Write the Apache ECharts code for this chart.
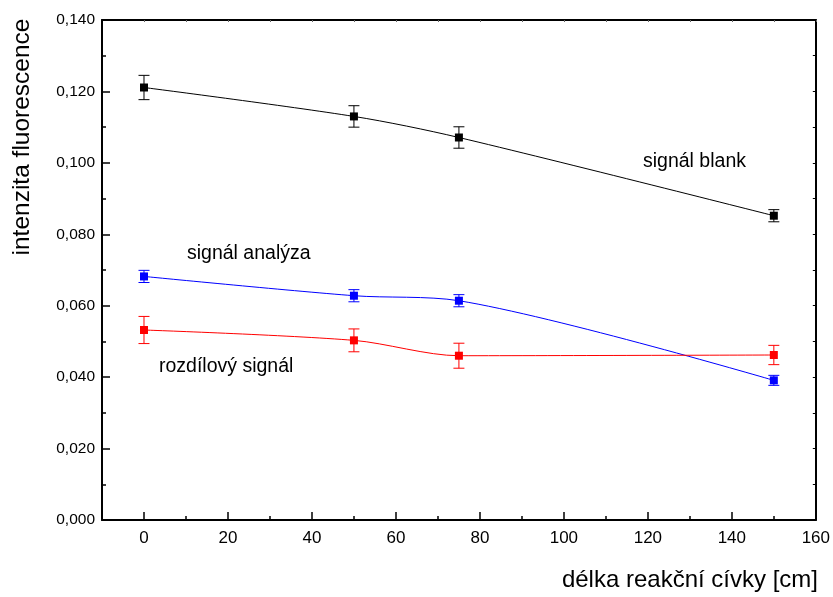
<!DOCTYPE html>
<html>
<head>
<meta charset="utf-8">
<script src="https://cdn.jsdelivr.net/npm/echarts@6/dist/echarts.min.js"></script>
<style>html,body{margin:0;padding:0;background:#fff}#c{width:833px;height:597px}</style>
</head>
<body>
<div id="c"></div>
<script>
const xValues = [0, 50, 75, 150];
const blankVals = [0.1211, 0.1130, 0.1071, 0.0852];
const blankErr = [0.0034, 0.0030, 0.0030, 0.0017];
const analyzaVals = [0.0682, 0.0628, 0.0614, 0.0391];
const analyzaErr = [0.0017, 0.0017, 0.0017, 0.0014];
const rozdilVals = [0.0532, 0.0503, 0.0460, 0.0462];
const rozdilErr = [0.0038, 0.0032, 0.0035, 0.0027];
const xMajorTicks = [0, 20, 40, 60, 80, 100, 120, 140, 160];
const xMinorTicks = [10, 30, 50, 70, 90, 110, 130, 150];
const xTopTicks = [0, 10, 20, 30, 40, 50, 60, 70, 80, 90, 100, 110, 120, 130, 140, 150, 160];
const yTitle = 'intenzita fluorescence';
const xTitle = 'délka reakční cívky [cm]';
const labelBlank = 'signál blank';
const labelAnalyza = 'signál analýza';
const labelRozdil = 'rozdílový signál';

const FONT = '"Liberation Sans", Arial, sans-serif';
const chart = echarts.init(document.getElementById('c'));

function pts(vals) { return xValues.map((x, i) => [x, vals[i]]); }
function errs(vals, e) { return xValues.map((x, i) => [x, vals[i] - e[i], vals[i] + e[i]]); }

function errSeries(vals, e, color) {
  return {
    type: 'custom',
    xAxisIndex: 0, yAxisIndex: 0,
    data: errs(vals, e),
    encode: { x: 0, y: [1, 2] },
    z: 3,
    renderItem: function (params, api) {
      const x = api.value(0);
      const top = api.coord([x, api.value(2)]);
      const bot = api.coord([x, api.value(1)]);
      const w = 5.5;
      const st = { stroke: color, lineWidth: 1 };
      return {
        type: 'group',
        children: [
          { type: 'line', shape: { x1: top[0], y1: top[1], x2: bot[0], y2: bot[1] }, style: st },
          { type: 'line', shape: { x1: top[0] - w, y1: top[1], x2: top[0] + w, y2: top[1] }, style: st },
          { type: 'line', shape: { x1: bot[0] - w, y1: bot[1], x2: bot[0] + w, y2: bot[1] }, style: st }
        ]
      };
    }
  };
}

function lineSeries(vals, color) {
  return {
    type: 'line',
    xAxisIndex: 0, yAxisIndex: 0,
    data: pts(vals),
    smooth: 0.3,
    symbol: 'rect',
    symbolSize: 8,
    showSymbol: true,
    itemStyle: { color: color },
    lineStyle: { color: color, width: 1 },
    z: 4
  };
}

const axisLineStyle = { color: '#000', width: 2 };

chart.setOption({
  animation: false,
  backgroundColor: '#fff',
  grid: { left: 102, right: 15, top: 20, bottom: 77 },
  xAxis: [
    {
      type: 'value', min: -10, max: 160, position: 'bottom',
      axisLine: { show: true, onZero: false, lineStyle: axisLineStyle },
      axisTick: { show: true, inside: true, length: 8, customValues: xMajorTicks, lineStyle: { color: '#000', width: 1.5 } },
      axisLabel: { show: true, customValues: xMajorTicks, color: '#000', fontFamily: FONT, fontSize: 17, margin: 10 },
      splitLine: { show: false }
    },
    {
      type: 'value', min: -10, max: 160, position: 'bottom',
      axisLine: { show: false },
      axisTick: { show: true, inside: true, length: 4, customValues: xMinorTicks, lineStyle: { color: '#000', width: 1.5 } },
      axisLabel: { show: false },
      splitLine: { show: false }
    },
    {
      type: 'value', min: -10, max: 160, position: 'top',
      axisLine: { show: true, onZero: false, lineStyle: axisLineStyle },
      axisTick: { show: true, inside: true, length: 2, customValues: xTopTicks, lineStyle: { color: '#666', width: 1 } },
      axisLabel: { show: false },
      splitLine: { show: false }
    }
  ],
  yAxis: [
    {
      type: 'value', min: 0, max: 0.14, interval: 0.02, position: 'left',
      axisLine: { show: true, onZero: false, lineStyle: axisLineStyle },
      axisTick: { show: true, inside: true, length: 8, lineStyle: { color: '#000', width: 1.5 } },
      minorTick: { show: true, splitNumber: 2, length: 4, lineStyle: { color: '#000', width: 1.5 } },
      axisLabel: {
        color: '#000', fontFamily: FONT, fontSize: 15.5, margin: 7,
        formatter: v => v.toFixed(3).replace('.', ',')
      },
      splitLine: { show: false }
    },
    {
      type: 'value', min: 0, max: 0.14, interval: 0.01, position: 'right',
      axisLine: { show: true, onZero: false, lineStyle: axisLineStyle },
      axisTick: { show: true, inside: true, length: 3, lineStyle: { color: '#000', width: 1 } },
      axisLabel: { show: false },
      splitLine: { show: false }
    }
  ],
  series: [
    lineSeries(blankVals, '#000000'),
    errSeries(blankVals, blankErr, '#000000'),
    lineSeries(analyzaVals, '#0000ff'),
    errSeries(analyzaVals, analyzaErr, '#0000ff'),
    lineSeries(rozdilVals, '#ff0000'),
    errSeries(rozdilVals, rozdilErr, '#ff0000')
  ],
  graphic: [
    { type: 'text', x: 22, y: 137, rotation: Math.PI / 2,
      style: { text: yTitle, fill: '#000', font: '24.5px ' + FONT, textAlign: 'center', textVerticalAlign: 'middle' } },
    { type: 'text', x: 818, y: 580,
      style: { text: xTitle, fill: '#000', font: '24px ' + FONT, textAlign: 'right', textVerticalAlign: 'middle' } },
    { type: 'text', x: 643, y: 162,
      style: { text: labelBlank, fill: '#000', font: '19.5px ' + FONT, textAlign: 'left', textVerticalAlign: 'middle' } },
    { type: 'text', x: 187, y: 254,
      style: { text: labelAnalyza, fill: '#000', font: '19.5px ' + FONT, textAlign: 'left', textVerticalAlign: 'middle' } },
    { type: 'text', x: 159, y: 367,
      style: { text: labelRozdil, fill: '#000', font: '19.5px ' + FONT, textAlign: 'left', textVerticalAlign: 'middle' } }
  ]
});
</script>
</body>
</html>
